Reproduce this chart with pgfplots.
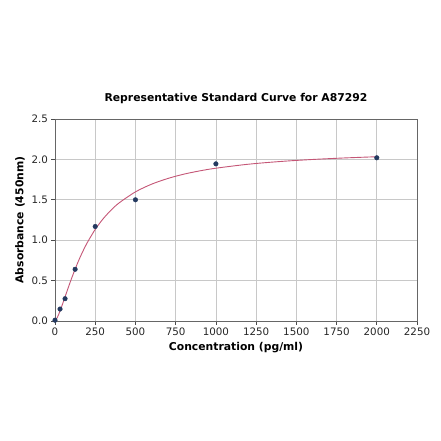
\documentclass[border=0pt]{standalone}
\usepackage{pgfplots}
\pgfplotsset{compat=1.18}
\usepackage{fontspec}
\setmainfont{DejaVu Sans}
\definecolor{curvecol}{RGB}{196,86,118}
\definecolor{ptcol}{RGB}{36,58,96}
\definecolor{gridcol}{RGB}{200,200,200}
\begin{document}
\begin{tikzpicture}
\useasboundingbox (-55pt,-120pt) rectangle (385pt,321pt);
\begin{axis}[
    at={(0,0)}, anchor=south west,
    scale only axis,
    width=362pt, height=202pt,
    xmin=0, xmax=2250, ymin=0, ymax=2.5,
    xtick={0,250,...,2250},
    ytick={0,0.5,...,2.5},
    yticklabel style={/pgf/number format/fixed,/pgf/number format/fixed zerofill,/pgf/number format/precision=1},
    xticklabel style={/pgf/number format/1000 sep={}},
    /pgf/number format/assume math mode=true,
    tick label style={font=\fontsize{10.3}{12}\selectfont, text=black!85},
    tick align=outside, tick pos=left,
    major tick length=3.5pt,
    every tick/.style={black!70, line width=0.6pt},
    axis line style={black!60, line width=0.7pt},
    grid=major,
    major grid style={gridcol, line width=0.6pt},
    title={\bfseries Representative Standard Curve for A87292},
    title style={font=\fontsize{10.8}{12}\selectfont, at={(0.5,1)}, yshift=6pt, anchor=south},
    xlabel={\bfseries Concentration (pg/ml)},
    ylabel={\bfseries Absorbance (450nm)},
    label style={font=\fontsize{10.8}{12}\selectfont},
    xlabel style={yshift=0pt},
    ylabel style={yshift=0pt},
]
\addplot[curvecol, line width=0.9pt, smooth, no marks] coordinates {
(0,0) (15,0.046) (31.25,0.124) (50,0.227) (75,0.371) (100,0.511) (125,0.641)
(150,0.762) (175,0.870) (200,0.968) (250,1.134) (300,1.267) (350,1.375)
(400,1.464) (500,1.598) (600,1.693) (700,1.763) (800,1.817) (900,1.858)
(1000,1.891) (1200,1.940) (1400,1.974) (1600,1.999) (1800,2.018) (2000,2.033)
};
\addplot[only marks, mark=*, mark size=2.3pt, ptcol] coordinates {
(0,0.01) (31.25,0.148) (62.5,0.276) (125,0.64) (250,1.17) (500,1.50) (1000,1.945) (2000,2.02)
};
\end{axis}
\end{tikzpicture}
\end{document}
